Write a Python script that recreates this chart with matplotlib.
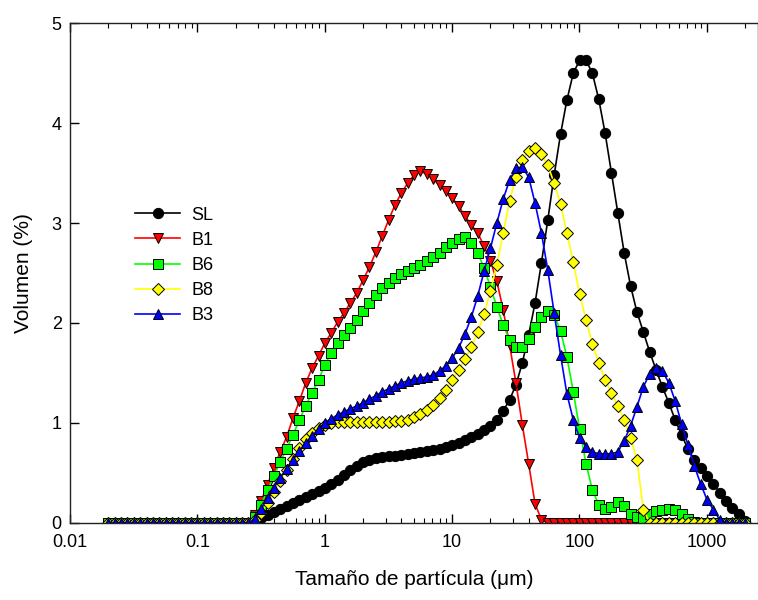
import numpy as np
import matplotlib
matplotlib.use("Agg")
import matplotlib.pyplot as plt
from matplotlib.ticker import LogLocator, NullFormatter

plt.rcParams['font.family'] = ['Liberation Sans', 'DejaVu Sans']

# clases de tamaño (um)
size = [0.02, 0.02244, 0.02518, 0.02825, 0.0317, 0.03557, 0.03991, 0.04477, 0.05024, 0.05637,
        0.06325, 0.07096, 0.07962, 0.08934, 0.1002, 0.1125, 0.1262, 0.1416, 0.1589, 0.1783,
        0.2, 0.2244, 0.2518, 0.2825, 0.317, 0.3557, 0.3991, 0.4477, 0.5024, 0.5637,
        0.6325, 0.7096, 0.7962, 0.8934, 1.002, 1.125, 1.262, 1.416, 1.589, 1.783,
        2.0, 2.244, 2.518, 2.825, 3.17, 3.557, 3.991, 4.477, 5.024, 5.637,
        6.325, 7.096, 7.962, 8.934, 10.02, 11.25, 12.62, 14.16, 15.89, 17.83,
        20.0, 22.44, 25.18, 28.25, 31.7, 35.57, 39.91, 44.77, 50.24, 56.37,
        63.25, 70.96, 79.62, 89.34, 100.2, 112.5, 126.2, 141.6, 158.9, 178.3,
        200.0, 224.4, 251.8, 282.5, 317.0, 355.7, 399.1, 447.7, 502.4, 563.7,
        632.5, 709.6, 796.2, 893.4, 1002, 1125, 1262, 1416, 1589, 1783, 2000]

z23 = [0] * 23

SL = z23 + [0.02, 0.05, 0.08, 0.11, 0.14, 0.17, 0.20, 0.23, 0.26, 0.29,
            0.32, 0.35, 0.39, 0.43, 0.48, 0.53, 0.57, 0.61, 0.63, 0.65,
            0.66, 0.67, 0.67, 0.68, 0.69, 0.70, 0.71, 0.72, 0.73, 0.74,
            0.76, 0.78, 0.80, 0.83, 0.86, 0.89, 0.93, 0.97, 1.03, 1.12,
            1.23, 1.38, 1.60, 1.88, 2.20, 2.60, 3.03, 3.48, 3.89, 4.23,
            4.50, 4.63, 4.63, 4.50, 4.24, 3.90, 3.50, 3.10, 2.70, 2.37,
            2.11, 1.91, 1.71, 1.53, 1.36, 1.20, 1.03, 0.88, 0.74, 0.63,
            0.55, 0.47, 0.39, 0.30, 0.22, 0.15, 0.09, 0.02]

B1 = z23 + [0.08, 0.22, 0.38, 0.55, 0.71, 0.86, 1.05, 1.22, 1.40, 1.55,
            1.67, 1.80, 1.90, 2.01, 2.10, 2.20, 2.30, 2.43, 2.56, 2.71,
            2.87, 3.03, 3.18, 3.30, 3.40, 3.48, 3.52, 3.49, 3.44, 3.38,
            3.32, 3.25, 3.17, 3.07, 2.98, 2.90, 2.77, 2.62, 2.42, 2.13,
            1.78, 1.40, 0.98, 0.59, 0.19, 0.03] + [0] * 32

B6 = z23 + [0.06, 0.18, 0.33, 0.47, 0.61, 0.74, 0.88, 1.03, 1.17, 1.30,
            1.43, 1.58, 1.70, 1.80, 1.88, 1.95, 2.03, 2.12, 2.20, 2.28,
            2.35, 2.40, 2.45, 2.49, 2.52, 2.55, 2.58, 2.62, 2.66, 2.70,
            2.76, 2.80, 2.84, 2.86, 2.80, 2.70, 2.55, 2.36, 2.16, 1.98,
            1.83, 1.76, 1.76, 1.84, 1.96, 2.06, 2.12, 2.08, 1.92, 1.66,
            1.31, 0.94, 0.59, 0.33, 0.18, 0.14, 0.16, 0.21, 0.17, 0.09,
            0.06, 0.05, 0.09, 0.12, 0.13, 0.14, 0.13, 0.09, 0.04, 0.01] + [0] * 8

B8 = z23 + [0.03, 0.10, 0.20, 0.31, 0.42, 0.53, 0.64, 0.75, 0.84, 0.90,
            0.95, 0.98, 1.00, 1.01, 1.01, 1.01, 1.01, 1.01, 1.01, 1.01,
            1.01, 1.01, 1.02, 1.02, 1.03, 1.06, 1.09, 1.13, 1.18, 1.25,
            1.33, 1.43, 1.53, 1.64, 1.76, 1.91, 2.09, 2.32, 2.58, 2.90,
            3.22, 3.46, 3.63, 3.72, 3.75, 3.69, 3.58, 3.40, 3.19, 2.90,
            2.61, 2.29, 2.03, 1.79, 1.60, 1.43, 1.30, 1.17, 1.03, 0.85,
            0.63, 0.13] + [0] * 16

B3 = z23 + [0.04, 0.14, 0.25, 0.35, 0.45, 0.54, 0.63, 0.72, 0.80, 0.87,
            0.94, 1.00, 1.04, 1.08, 1.11, 1.14, 1.17, 1.20, 1.24, 1.27,
            1.31, 1.34, 1.37, 1.40, 1.42, 1.44, 1.45, 1.46, 1.48, 1.52,
            1.57, 1.65, 1.75, 1.89, 2.06, 2.27, 2.52, 2.75, 3.00, 3.24,
            3.43, 3.55, 3.56, 3.46, 3.20, 2.90, 2.53, 2.10, 1.68, 1.29,
            1.03, 0.85, 0.76, 0.71, 0.69, 0.69, 0.69, 0.71, 0.82, 0.97,
            1.16, 1.36, 1.49, 1.55, 1.52, 1.40, 1.22, 0.99, 0.78, 0.57,
            0.39, 0.23, 0.13, 0.03] + [0] * 4

labels = ['SL', 'B1', 'B6', 'B8', 'B3']
colors = ['black', 'red', '#00ff00', 'yellow', 'blue']
markers = ['o', 'v', 's', 'D', '^']
msizes = [7.4, 7.5, 6.5, 6.3, 7.5]

fig = plt.figure(figsize=(7.58, 6.0), dpi=100)
ax = fig.add_axes([70 / 758, 77.3 / 600, 688 / 758, 499.4 / 600])

for y, lab, c, m, ms in zip([SL, B1, B6, B8, B3], labels, colors, markers, msizes):
    ax.plot(size, y, color=c, lw=1.2, marker=m, ms=ms, mfc=c,
            mec='black', mew=0.7, label=lab)

ax.set_xscale('log')
ax.set_xlim(0.01, 2520)
ax.set_ylim(0, 5)
ax.set_xticks([0.01, 0.1, 1, 10, 100, 1000])
ax.set_xticklabels(['0.01', '0.1', '1', '10', '100', '1000'])
ax.xaxis.set_minor_locator(LogLocator(base=10, subs=np.arange(2, 10), numticks=20))
ax.xaxis.set_minor_formatter(NullFormatter())
ax.set_yticks([0, 1, 2, 3, 4, 5])

ax.tick_params(which='both', direction='in', top=True, right=False, labelsize=13)
ax.tick_params(which='major', length=6.5, width=1)
ax.tick_params(which='minor', length=3.5, width=0.8)
ax.tick_params(axis='x', pad=8)
ax.tick_params(axis='y', pad=6)
for s in ax.spines.values():
    s.set_linewidth(1.0)
    s.set_color('#222222')

ax.set_xlabel('Tamaño de partícula (\u03bcm)', fontsize=15, labelpad=14)
ax.set_ylabel('Volumen (%)', fontsize=15, labelpad=13)

ax.legend(loc='upper left', bbox_to_anchor=(0.0946, 0.633), frameon=False,
          fontsize=13, handlelength=2.5, handletextpad=0.6, labelspacing=0.45,
          borderpad=0, borderaxespad=0)

fig.savefig('out.png', dpi=100)
